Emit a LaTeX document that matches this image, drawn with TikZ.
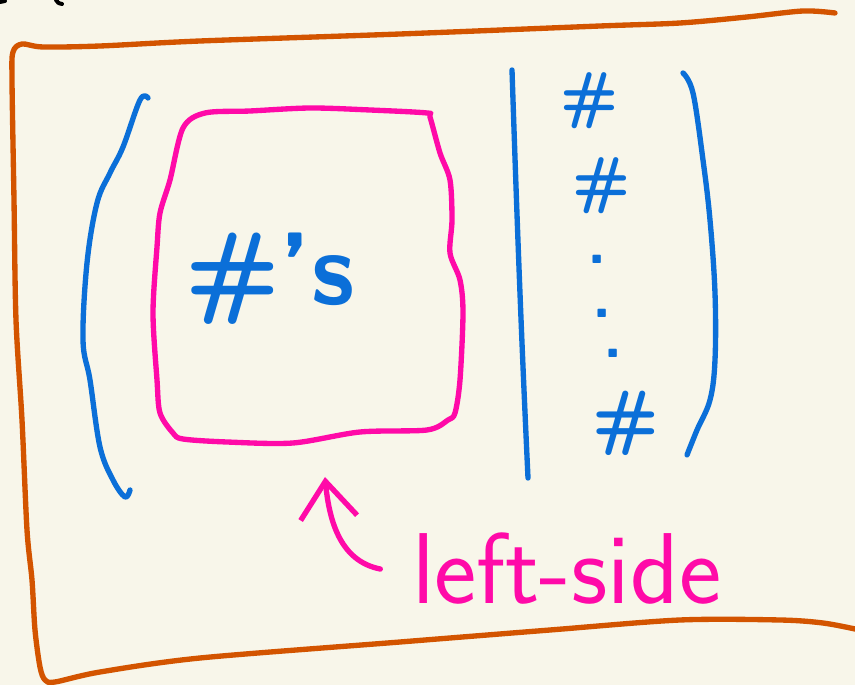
\documentclass[tikz,border=0pt]{standalone}
\usepackage{fontspec}
\usepackage{tikz}
\usetikzlibrary{arrows.meta,positioning}
\definecolor{paper}{HTML}{F8F6EA}
\definecolor{inkorange}{HTML}{D35400}
\definecolor{inkblue}{HTML}{0B6FD8}
\definecolor{inkpink}{HTML}{FF0AA8}

\begin{document}
\begin{tikzpicture}[
            x=0.03cm, y=-0.03cm,
            pen/.style={line width=1.6mm, line cap=round, line join=round},
            glyph/.style={font=\sffamily\bfseries, text=inkblue, inner sep=0pt},
            bigglyph/.style={glyph, font=\sffamily\bfseries\fontsize{88}{90}\selectfont},
            colglyph/.style={glyph, font=\sffamily\bfseries\fontsize{54}{56}\selectfont},
            dotglyph/.style={colglyph, text height=0.12em, text depth=0pt},
            note/.style={font=\sffamily\fontsize{86}{88}\selectfont, text=inkpink, inner sep=0pt}
        ]

        % ================= kertas =================
        \fill[paper] (0,0) rectangle (855,685);
        \useasboundingbox (0,0) rectangle (855,685);
        \draw[line width=1.2mm, line cap=round, black] (0,2) -- (5,1);
        \draw[line width=1.2mm, line cap=round, black] (56,0) .. controls (58,3) .. (62,4);

        % ================= bingkai =================
        \draw[pen, inkorange] plot[smooth, tension=0.5] coordinates {
            (835,13) (803,11) (747,17) (680,23) (600,26) (400,34) (200,41) (100,46)
            (43,47) (22,44) (13,52) (12,80) (14,200) (16,320) (22,420) (27,530)
            (32,580) (35,630) (40,667) (45,680) (55,682) (100,672) (200,658)
            (400,642) (550,630) (680,620) (780,620) (823,623) (855,629)};

        % ================= kurung matriks =================
        \draw[pen, inkblue] plot[smooth, tension=0.6] coordinates {
            (148,98) (140,100) (123,147) (110,173) (97,203) (87,263) (83,340)
            (90,380) (100,447) (113,480) (125,497) (130,490)};
        \draw[pen, inkblue] plot[smooth, tension=0.6] coordinates {
            (683,73) (693,93) (703,160) (710,220) (715,293) (715,360) (710,400)
            (697,430) (687,455)};
        \draw[pen, inkblue] (512,70) .. controls (518,250) and (522,350) .. (528,478);

        % ================= blok kiri =================
        \draw[pen, inkpink] plot[smooth cycle, tension=0.5] coordinates {
            (183,128) (205,113) (250,111) (310,108) (370,110) (427,113) (430,117)
            (440,153) (450,180) (452,220) (450,253) (460,280) (463,313) (460,380)
            (455,413) (448,420) (427,430) (360,432) (293,443) (227,442) (183,439)
            (173,433) (160,413) (157,380) (153,313) (157,247) (160,213) (170,180)};
        \node[bigglyph, anchor=base west] (nums) at (185,305) {\#'s};

        % ================= kolom kanan =================
        \node[colglyph] (col1) at (590,101) {\#};
        \node[colglyph] (col2) at (602,186) {\#};
        \node[dotglyph] (dot1) at (597,263) {.};
        \node[dotglyph] (dot2) at (602,317) {.};
        \node[dotglyph] (dot3) at (613,357) {.};
        \node[glyph, font=\sffamily\bfseries\fontsize{62}{64}\selectfont] (col3) at (626,423) {\#};

        % ================= keterangan =================
        \node[note, anchor=base west] (lbl) at (412,604) {left-side};
        \coordinate (boxbot) at (325,477);
        \draw[pen, inkpink, -{Straight Barb[length=1.1cm, width=1.7cm]}]
        ([xshift=-0.95cm]lbl.west) .. controls (345,562) and (330,530) .. (boxbot);

    \end{tikzpicture}
\end{document}
